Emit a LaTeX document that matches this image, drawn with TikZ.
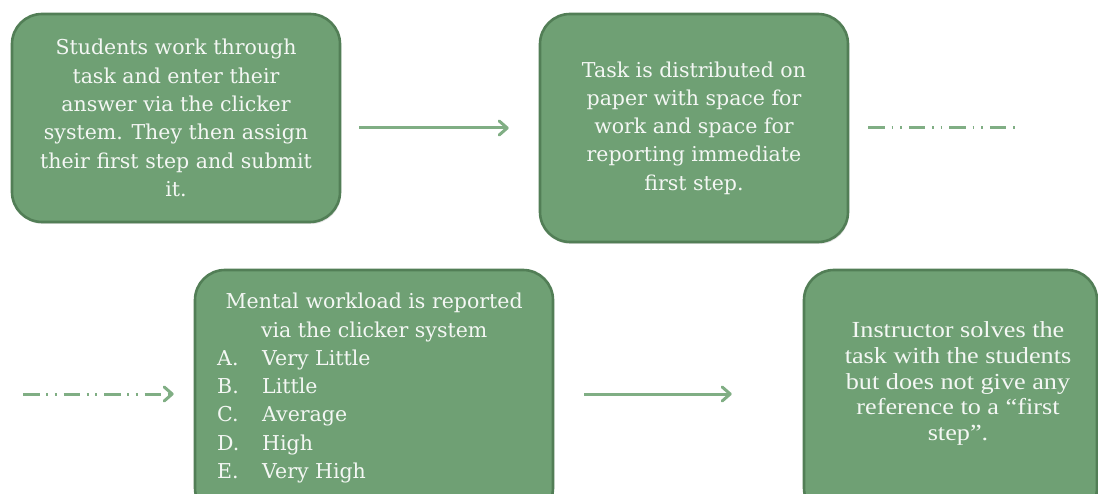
\documentclass[tikz,border=0pt]{standalone}
\usepackage{fontspec}
\usepackage{graphicx}
\newfontfamily\slabfont{DejaVu Serif}
\newfontfamily\palafont{Liberation Serif}
\usetikzlibrary{arrows.meta,shadows,calc}
\definecolor{boxfill}{RGB}{111,160,116}
\definecolor{boxline}{RGB}{82,126,86}
\definecolor{conn}{RGB}{128,174,132}
\definecolor{txt}{RGB}{244,247,244}
\tikzset{
  stepbox/.style={draw=boxline, line width=2.6pt, fill=boxfill, rounded corners=30pt,
    drop shadow={opacity=0.22, shadow xshift=1pt, shadow yshift=-2pt}, inner sep=0pt},
  slabtext/.style={text=txt, font=\slabfont\fontsize{20.5}{28.3}\selectfont, align=center},
  palatext/.style={text=txt, font=\palafont\fontsize{23}{25.8}\selectfont, inner sep=0pt},
  conline/.style={draw=conn, line width=3pt},
  contip/.style={-{Straight Barb[length=8pt,width=14pt,line cap=round,line join=round]}},
  dashdot/.style={dash pattern=on 16.5pt off 6.7pt on 1.8pt off 6.7pt on 1.8pt off 7pt}
}
\begin{document}
\begin{tikzpicture}[x=1pt,y=-1pt]
\useasboundingbox (0,0) rectangle (1098,494);
\clip (0,0) rectangle (1098,494);
% boxes
\node[stepbox, slabtext, minimum width=328pt, minimum height=208pt] (b1) at (176,118)
  {Students work through\\task and enter their\\answer via the clicker\\system. They then assign\\their first step and submit\\it.};
\node[stepbox, slabtext, minimum width=308pt, minimum height=228pt] (b2) at (694,128)
  {Task is distributed on\\paper with space for\\work and space for\\reporting immediate\\first step.};
\node[stepbox, minimum width=358pt, minimum height=248pt] (b3) at (374,394) {};
\node[stepbox, minimum width=293pt, minimum height=248pt] (b4) at (950.5,394) {};
\node[slabtext, align=left, anchor=north west, inner sep=0pt] (t3) at (217,293)
  {\makebox[314pt][c]{Mental workload is reported}\\
   \makebox[314pt][c]{via the clicker system}\\
   \makebox[45pt][l]{A.}Very Little\\
   \makebox[45pt][l]{B.}Little\\
   \makebox[45pt][l]{C.}Average\\
   \makebox[45pt][l]{D.}High\\
   \makebox[45pt][l]{E.}Very High};
\node[palatext] (t4) at (958,384)
  {\scalebox{1.14}[1]{\begin{tabular}{@{}c@{}}Instructor solves the\\task with the students\\but does not give any\\reference to a “first\\step”.\end{tabular}}};
% connectors
\coordinate (c1) at (1015,128);
\coordinate (c2) at (23,394);
\draw[conline, contip, shorten <=18pt, shorten >=30pt] (b1.east |- b2.west) -- (b2.west);
\draw[conline, dashdot, shorten <=19pt] (b2.east) -- (c1);
\draw[conline, dashdot, contip, shorten >=20pt] (c2) -- (b3.west);
\draw[conline, contip, shorten <=30pt, shorten >=71pt] (b3.east) -- (b4.west);
\end{tikzpicture}
\end{document}
